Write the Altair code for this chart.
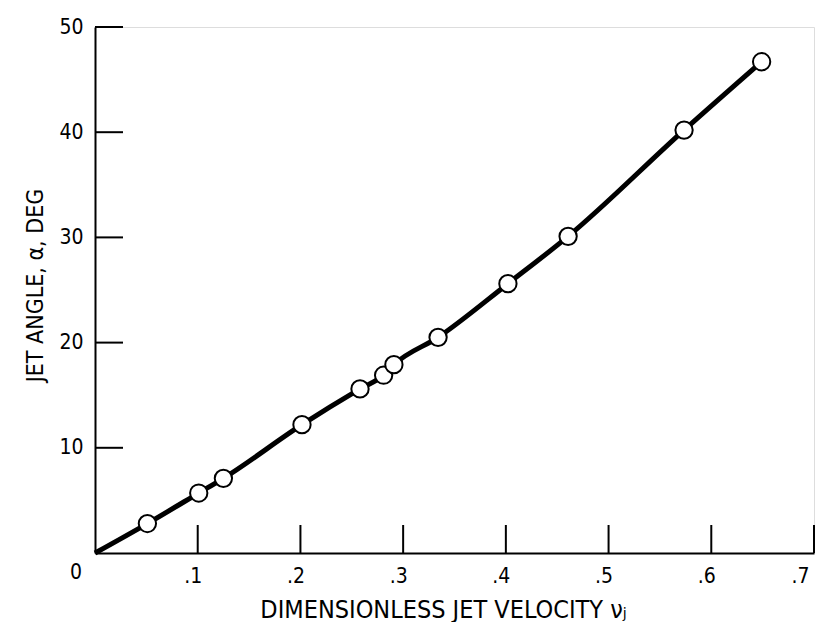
import altair as alt
import pandas as pd

# Data
vj = [0.051, 0.101, 0.125, 0.2015, 0.258, 0.281, 0.291, 0.334, 0.402, 0.4606, 0.5735, 0.649]
alpha = [2.8, 5.7, 7.1, 12.2, 15.6, 16.9, 17.9, 20.5, 25.6, 30.1, 40.2, 46.7]

curve_x = [0.0] + vj
curve_y = [0.0] + alpha

x_ticks = [0.1, 0.2, 0.3, 0.4, 0.5, 0.6, 0.7]
y_ticks = [10, 20, 30, 40, 50]

W, H = 719, 526
FONT = "Liberation Sans Narrow, DejaVu Sans Condensed, sans-serif"

pts = pd.DataFrame({"vj": vj, "alpha": alpha})
crv = pd.DataFrame({"vj": curve_x, "alpha": curve_y})
xt = pd.DataFrame({"v": x_ticks})
yt = pd.DataFrame({"v": y_ticks})
origin = pd.DataFrame({"vj": [0.0], "alpha": [0.0], "t": ["0"]})

xscale = alt.Scale(domain=[0, 0.7], nice=False, zero=True)
yscale = alt.Scale(domain=[0, 50], nice=False, zero=True)

xaxis = alt.Axis(
    values=x_ticks, ticks=False, grid=False, domainColor="black", domainWidth=2,
    labelExpr="replace(format(datum.value, '.1f'), '0.', '.')",
    labelFont=FONT, labelFontSize=21, labelColor="black", labelPadding=12, labelOffset=-5,
    title="DIMENSIONLESS JET VELOCITY  νⱼ", titleFont=FONT, titleFontSize=25,
    titleFontWeight="normal", titleColor="black", titleX=348, titleY=64,
    titleAlign="center", titleBaseline="alphabetic",
)
yaxis = alt.Axis(
    values=y_ticks, ticks=False, grid=False, domainColor="black", domainWidth=2,
    labelFont=FONT, labelFontSize=21, labelColor="black", labelPadding=12,
    title="JET ANGLE, α, DEG", titleFont=FONT, titleFontSize=23,
    titleFontWeight="normal", titleColor="black", titleX=-60, titleY=258,
    titleAngle=-90, titleAlign="center", titleBaseline="middle",
)

line = alt.Chart(crv).mark_line(color="black", strokeWidth=5, interpolate="monotone").encode(
    x=alt.X("vj:Q", scale=xscale, axis=xaxis),
    y=alt.Y("alpha:Q", scale=yscale, axis=yaxis),
)

xtick = alt.Chart(xt).mark_rule(color="black", strokeWidth=2).encode(
    x=alt.X("v:Q", scale=xscale),
    y=alt.value(H), y2=alt.value(H - 28),
)
ytick = alt.Chart(yt).mark_rule(color="black", strokeWidth=2).encode(
    y=alt.Y("v:Q", scale=yscale),
    x=alt.value(0), x2=alt.value(28),
)

dots = alt.Chart(pts).mark_point(
    shape="circle", filled=True, fill="white", stroke="black", strokeWidth=2, size=300, opacity=1
).encode(
    x=alt.X("vj:Q", scale=xscale),
    y=alt.Y("alpha:Q", scale=yscale),
)

zero = alt.Chart(origin).mark_text(
    font=FONT, fontSize=21, color="black", dx=-19, dy=20
).encode(
    x=alt.X("vj:Q", scale=xscale),
    y=alt.Y("alpha:Q", scale=yscale),
    text="t:N",
)

chart = alt.layer(line, xtick, ytick, dots, zero).properties(
    width=W, height=H,
    autosize=alt.AutoSizeParams(type="none"),
    padding={"left": 87, "top": 19, "right": 4, "bottom": 69},
).configure_view(stroke=None).configure(background="white")

chart.save("out.html", embed_options={"renderer": "svg", "actions": False})
